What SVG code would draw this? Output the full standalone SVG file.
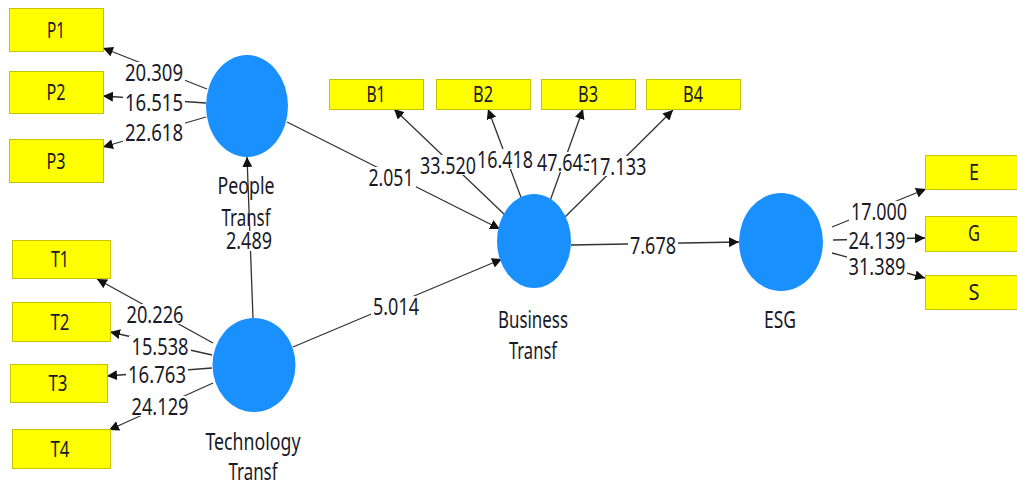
<svg xmlns="http://www.w3.org/2000/svg" width="1017" height="486" viewBox="0 0 1017 486">
<style>
.box{fill:#ffff00;stroke:#c4c400;stroke-width:1}
.lv{fill:#1a90ff}
.t{font-family:"Noto Sans","Open Sans",sans-serif;fill:#1a1a28;text-anchor:middle}
.bt{font-size:21px}
.nt{font-size:23px}
.et{font-size:23px}
.ln{stroke:#333;stroke-width:1.3;fill:none}
.bg{fill:#fff}
</style>
<defs>
<marker id="ah" markerUnits="userSpaceOnUse" markerWidth="11" markerHeight="10" refX="10" refY="5" orient="auto">
<path d="M0,0 L10,5 L0,10 z" fill="#111"/>
</marker>
</defs>
<rect width="1017" height="486" fill="#fff"/>
<g id="connectors">
<line class="ln" x1="207" y1="89" x2="103" y2="48" marker-end="url(#ah)"/>
<line class="ln" x1="206" y1="103" x2="103" y2="96" marker-end="url(#ah)"/>
<line class="ln" x1="206" y1="117" x2="103" y2="147" marker-end="url(#ah)"/>
<line class="ln" x1="213" y1="343" x2="97" y2="279" marker-end="url(#ah)"/>
<line class="ln" x1="212" y1="355" x2="110" y2="332" marker-end="url(#ah)"/>
<line class="ln" x1="212" y1="368" x2="107" y2="376" marker-end="url(#ah)"/>
<line class="ln" x1="213" y1="383" x2="109" y2="430" marker-end="url(#ah)"/>
<line class="ln" x1="253" y1="318" x2="247" y2="157" marker-end="url(#ah)"/>
<line class="ln" x1="293" y1="347" x2="502" y2="259" marker-end="url(#ah)"/>
<line class="ln" x1="287" y1="122" x2="500" y2="229" marker-end="url(#ah)"/>
<line class="ln" x1="505" y1="215" x2="394" y2="109" marker-end="url(#ah)"/>
<line class="ln" x1="522" y1="200" x2="488" y2="109" marker-end="url(#ah)"/>
<line class="ln" x1="550" y1="201" x2="583" y2="109" marker-end="url(#ah)"/>
<line class="ln" x1="565" y1="217" x2="673" y2="110" marker-end="url(#ah)"/>
<line class="ln" x1="571" y1="245" x2="739" y2="242" marker-end="url(#ah)"/>
<line class="ln" x1="832" y1="227" x2="926" y2="189" marker-end="url(#ah)"/>
<line class="ln" x1="833" y1="240" x2="925" y2="238" marker-end="url(#ah)"/>
<line class="ln" x1="832" y1="253" x2="925" y2="278" marker-end="url(#ah)"/>
<g id="edge-labels">
<rect class="bg" x="123" y="62" width="62" height="20"/><text class="t et" x="154" y="80.5" textLength="58" lengthAdjust="spacingAndGlyphs">20.309</text>
<rect class="bg" x="123" y="92" width="62" height="20"/><text class="t et" x="154" y="110.5" textLength="58" lengthAdjust="spacingAndGlyphs">16.515</text>
<rect class="bg" x="123" y="122" width="62" height="20"/><text class="t et" x="154" y="140.5" textLength="58" lengthAdjust="spacingAndGlyphs">22.618</text>
<rect class="bg" x="124" y="304" width="62" height="20"/><text class="t et" x="155" y="322.5" textLength="57" lengthAdjust="spacingAndGlyphs">20.226</text>
<rect class="bg" x="129" y="336" width="62" height="20"/><text class="t et" x="160" y="354.5" textLength="57" lengthAdjust="spacingAndGlyphs">15.538</text>
<rect class="bg" x="126" y="364" width="62" height="20"/><text class="t et" x="157" y="382.5" textLength="58" lengthAdjust="spacingAndGlyphs">16.763</text>
<rect class="bg" x="129" y="396" width="62" height="20"/><text class="t et" x="160" y="414.5" textLength="57" lengthAdjust="spacingAndGlyphs">24.129</text>
<rect class="bg" x="224" y="231" width="50" height="20"/><text class="t et" x="249" y="248.5" textLength="46" lengthAdjust="spacingAndGlyphs">2.489</text>
<rect class="bg" x="371" y="296" width="50" height="20"/><text class="t et" x="396" y="314.5" textLength="46" lengthAdjust="spacingAndGlyphs">5.014</text>
<rect class="bg" x="366" y="167" width="50" height="20"/><text class="t et" x="391" y="185.5" textLength="45" lengthAdjust="spacingAndGlyphs">2.051</text>
<rect class="bg" x="418" y="155" width="60" height="20"/><text class="t et" x="448" y="173.5" textLength="56" lengthAdjust="spacingAndGlyphs">33.520</text>
<rect class="bg" x="476" y="149" width="60" height="20"/><text class="t et" x="505" y="167.5" textLength="56" lengthAdjust="spacingAndGlyphs">16.418</text>
<rect class="bg" x="535" y="152" width="60" height="20"/><text class="t et" x="565" y="170.5" textLength="56" lengthAdjust="spacingAndGlyphs">47.643</text>
<rect class="bg" x="589" y="156" width="60" height="20"/><text class="t et" x="618" y="174.5" textLength="57" lengthAdjust="spacingAndGlyphs">17.133</text>
<rect class="bg" x="628" y="235" width="50" height="20"/><text class="t et" x="653" y="253.5" textLength="46" lengthAdjust="spacingAndGlyphs">7.678</text>
<rect class="bg" x="849" y="201" width="60" height="20"/><text class="t et" x="879" y="219.5" textLength="56" lengthAdjust="spacingAndGlyphs">17.000</text>
<rect class="bg" x="847" y="230" width="60" height="20"/><text class="t et" x="877" y="248.5" textLength="57" lengthAdjust="spacingAndGlyphs">24.139</text>
<rect class="bg" x="847" y="256" width="60" height="20"/><text class="t et" x="877" y="274.5" textLength="57" lengthAdjust="spacingAndGlyphs">31.389</text>
</g>
</g>
<g id="P1"><rect class="box" x="9.5" y="8.5" width="94" height="43"/><text class="t bt" x="56" y="38" textLength="18" lengthAdjust="spacingAndGlyphs">P1</text></g>
<g id="P2"><rect class="box" x="9.5" y="71.5" width="94" height="42"/><text class="t bt" x="56" y="100" textLength="19" lengthAdjust="spacingAndGlyphs">P2</text></g>
<g id="P3"><rect class="box" x="9.5" y="139.5" width="94" height="43"/><text class="t bt" x="56" y="169" textLength="19" lengthAdjust="spacingAndGlyphs">P3</text></g>
<g id="T1"><rect class="box" x="12.5" y="240.5" width="98" height="38"/><text class="t bt" x="60" y="267" textLength="18" lengthAdjust="spacingAndGlyphs">T1</text></g>
<g id="T2"><rect class="box" x="12.5" y="302.5" width="98" height="39"/><text class="t bt" x="60" y="330" textLength="19" lengthAdjust="spacingAndGlyphs">T2</text></g>
<g id="T3"><rect class="box" x="10.5" y="364.5" width="97" height="38"/><text class="t bt" x="58" y="391" textLength="19" lengthAdjust="spacingAndGlyphs">T3</text></g>
<g id="T4"><rect class="box" x="12.5" y="429.5" width="98" height="39"/><text class="t bt" x="60" y="457" textLength="19" lengthAdjust="spacingAndGlyphs">T4</text></g>
<g id="B1"><rect class="box" x="329.5" y="79.5" width="94" height="30"/><text class="t bt" x="376" y="102" textLength="19" lengthAdjust="spacingAndGlyphs">B1</text></g>
<g id="B2"><rect class="box" x="436.5" y="79.5" width="94" height="30"/><text class="t bt" x="483" y="102" textLength="20" lengthAdjust="spacingAndGlyphs">B2</text></g>
<g id="B3"><rect class="box" x="541.5" y="79.5" width="94" height="30"/><text class="t bt" x="588" y="102" textLength="20" lengthAdjust="spacingAndGlyphs">B3</text></g>
<g id="B4"><rect class="box" x="646.5" y="79.5" width="94" height="30"/><text class="t bt" x="693" y="102" textLength="20" lengthAdjust="spacingAndGlyphs">B4</text></g>
<g id="E"><rect class="box" x="925.5" y="155.5" width="92" height="34"/><text class="t bt" x="974" y="180" textLength="10" lengthAdjust="spacingAndGlyphs">E</text></g>
<g id="G"><rect class="box" x="925.5" y="216.5" width="92" height="35"/><text class="t bt" x="974" y="241" textLength="12" lengthAdjust="spacingAndGlyphs">G</text></g>
<g id="S"><rect class="box" x="925.5" y="275.5" width="92" height="34"/><text class="t bt" x="974" y="300" textLength="11" lengthAdjust="spacingAndGlyphs">S</text></g>
<g id="PeopleTransf"><ellipse class="lv" cx="247" cy="106" rx="41" ry="51"/><text class="t nt" x="246" y="194" textLength="57" lengthAdjust="spacingAndGlyphs">People</text><text class="t nt" x="246" y="226" textLength="49" lengthAdjust="spacingAndGlyphs">Transf</text></g>
<g id="TechnologyTransf"><ellipse class="lv" cx="254" cy="365" rx="41.5" ry="47"/><text class="t nt" x="253" y="450" textLength="95" lengthAdjust="spacingAndGlyphs">Technology</text><text class="t nt" x="253" y="480" textLength="49" lengthAdjust="spacingAndGlyphs">Transf</text></g>
<g id="BusinessTransf"><ellipse class="lv" cx="534" cy="241" rx="37" ry="47"/><text class="t nt" x="533" y="328" textLength="70" lengthAdjust="spacingAndGlyphs">Business</text><text class="t nt" x="533" y="359" textLength="48" lengthAdjust="spacingAndGlyphs">Transf</text></g>
<g id="ESG"><ellipse class="lv" cx="781" cy="242" rx="42" ry="49"/><text class="t nt" x="780" y="328" textLength="32" lengthAdjust="spacingAndGlyphs">ESG</text></g>
</svg>
